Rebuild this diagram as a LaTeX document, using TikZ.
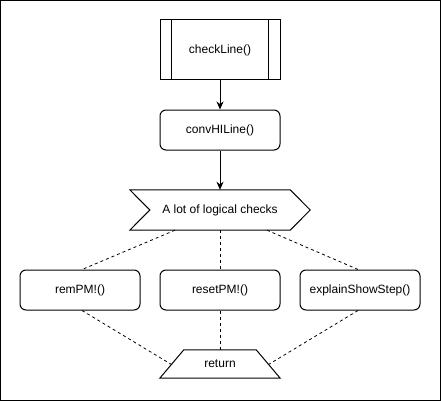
\documentclass[tikz,border=0pt]{standalone}
\usepackage{fontspec}
\setmainfont{Liberation Sans}
\usetikzlibrary{arrows.meta}
\begin{document}
\begin{tikzpicture}[x=1pt,y=-1pt,
  every node/.style={font=\fontsize{12}{14}\selectfont, inner sep=0pt},
  procbox/.style={draw, line width=1pt, minimum width=120pt, minimum height=40pt, rounded corners=6pt},
  subbox/.style={draw, line width=1pt, minimum width=120pt, minimum height=60pt},
  ghost/.style={minimum width=#1, inner sep=0pt},
  flow/.style={line width=1pt, -{Stealth[length=8pt,width=7pt,inset=2.5pt]}},
  link/.style={line width=0.8pt, dash pattern=on 3pt off 3pt},
  outline/.style={line width=1pt, line join=miter}
]
\useasboundingbox (0,0) rectangle (441,401);
\draw[line width=1pt] (0.5,0.5) rectangle (440.5,400.5);

% checkLine subprocess
\node[subbox] (cl) at (220,50) {checkLine()};
\draw[line width=1pt] ([xshift=12pt]cl.north west) -- ([xshift=12pt]cl.south west);
\draw[line width=1pt] ([xshift=-12pt]cl.north east) -- ([xshift=-12pt]cl.south east);

% convHILine
\node[procbox] (conv) at (220,130) {convHILine()};

% step shape
\node[minimum width=180pt, minimum height=40pt] (st) at (220,210) {A lot of logical checks};
\draw[outline] (st.north west) -- ([xshift=-20pt]st.north east) -- (st.east)
  -- ([xshift=-20pt]st.south east) -- (st.south west) -- ([xshift=20pt]st.west) -- cycle;

% bottom boxes
\node[procbox] (rem) at (80,290) {remPM!()};
\node[procbox] (reset) at (220,290) {resetPM!()};
\node[procbox] (expl) at (360,290) {explainShowStep()};

% return trapezoid
\node[minimum width=120pt, minimum height=28pt] (ret) at (220,364) {return};
\draw[outline] ([xshift=24pt]ret.north west) -- ([xshift=-24pt]ret.north east)
  -- (ret.south east) -- (ret.south west) -- cycle;

% arrows
\draw[flow] (cl.south) -- (conv.north);
\draw[flow] (conv.south) -- (st.north);

% dashed links
\draw[link] ([xshift=-45pt]st.south) -- ([xshift=2pt]rem.north);
\draw[link] (st.south) -- (reset.north);
\draw[link] ([xshift=47pt]st.south) -- ([xshift=-2pt]expl.north);
\draw[link] ([xshift=2pt]rem.south) -- ([xshift=12.5pt,yshift=-1pt]ret.west);
\draw[link] (reset.south) -- (ret.north);
\draw[link] ([xshift=-2pt]expl.south) -- ([xshift=-12.5pt,yshift=-1pt]ret.east);
\end{tikzpicture}
\end{document}
